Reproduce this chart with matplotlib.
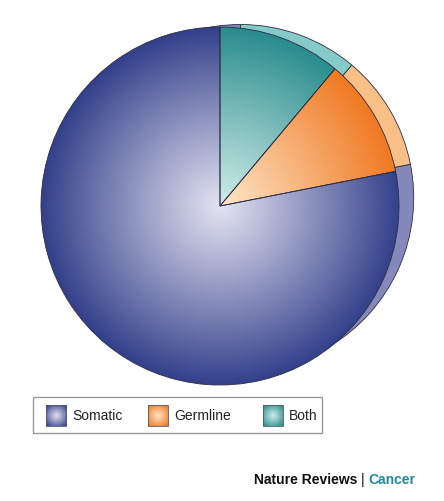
import matplotlib
matplotlib.use("Agg")
import matplotlib.pyplot as plt
import numpy as np
from matplotlib.colors import to_rgb
from matplotlib.patches import Rectangle

# data
labels = ["Somatic", "Germline", "Both"]
values = [78.1, 10.8, 11.1]
edge_colors = ["#33408a", "#f07820", "#288c8c"]
center_colors = ["#e2e2f0", "#fde6c8", "#d0ede9"]
rim_colors = ["#8489ba", "#f8bf86", "#86caca"]

W, H = 444, 502
fig = plt.figure(figsize=(W / 100, H / 100), dpi=100)
ax = fig.add_axes([0, 0, 1, 1])

cx, cy, R = 220, H - 207, 179
outline = "#2c2c44"


def radial_image(x0, x1, y0, y1, ccx, ccy, rad, c_in, c_out, power=1.0):
    xs = np.linspace(x0, x1, int(x1 - x0) * 2)
    ys = np.linspace(y0, y1, int(y1 - y0) * 2)
    X, Y = np.meshgrid(xs, ys)
    t = np.clip(np.hypot(X - ccx, Y - ccy) / rad, 0, 1) ** power
    a = np.array(to_rgb(c_in))
    b = np.array(to_rgb(c_out))
    return a + (b - a) * t[..., None]


# back rim (the "3d" edge): slightly smaller disc shifted up and right
ax.pie(values, center=(cx + 20.4, cy + 8.2), radius=R - 5.7, colors=rim_colors,
       startangle=90, counterclock=True,
       wedgeprops=dict(edgecolor=outline, linewidth=0.6))

# front pie: outlines on top, gradient images clipped to wedges
wedges, _ = ax.pie(values, center=(cx, cy), radius=R, colors=["none"] * 3,
                   startangle=90, counterclock=True,
                   wedgeprops=dict(edgecolor=outline, linewidth=0.6, zorder=4))

for w, c_in, c_out in zip(wedges, center_colors, edge_colors):
    ext = (cx - R - 2, cx + R + 2, cy - R - 2, cy + R + 2)
    img = radial_image(*ext, cx, cy, R, c_in, c_out, power=1.05)
    im = ax.imshow(img, extent=ext, origin="lower", zorder=3,
                   interpolation="bilinear")
    im.set_clip_path(w)

# legend
ax.add_patch(Rectangle((33, H - 434), 289, 36, fill=False,
                       edgecolor="#9a9a9a", linewidth=1.0, zorder=5))
swatch_x = [46, 148, 263]
for x0, lab, c_in, c_out in zip(swatch_x, labels, center_colors, edge_colors):
    y0 = H - 427
    img = radial_image(x0, x0 + 20, y0, y0 + 21, x0 + 10, y0 + 10.5, 14,
                       c_in, c_out, power=1.0)
    ax.imshow(img, extent=(x0, x0 + 20, y0, y0 + 21), origin="lower",
              zorder=5, interpolation="bilinear")
    ax.add_patch(Rectangle((x0, y0), 20, 21, fill=False, edgecolor="#555566",
                           linewidth=0.6, zorder=6))
    ax.text(x0 + 26, H - 416, lab, ha="left", va="center", fontsize=10,
            family="Liberation Sans", color="#222222", zorder=6)

# footer
ax.text(357, H - 480, "Nature Reviews", ha="right", va="center", fontsize=10,
        family="Liberation Sans", weight="bold", color="#111111")
ax.text(362.5, H - 480, "|", ha="center", va="center", fontsize=10,
        family="Liberation Sans", color="#111111")
ax.text(368, H - 480, "Cancer", ha="left", va="center", fontsize=10,
        family="Liberation Sans", weight="bold", color="#1f8b96")

ax.set_xlim(0, W)
ax.set_ylim(0, H)
ax.set_aspect("auto")
ax.axis("off")

fig.savefig("out.png", dpi=100)
